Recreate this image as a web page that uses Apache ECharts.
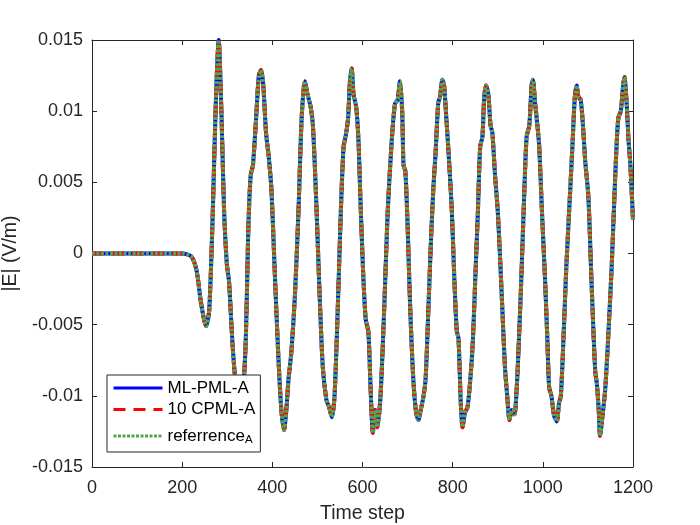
<!DOCTYPE html>
<html>
<head>
<meta charset="utf-8">
<script src="https://cdn.jsdelivr.net/npm/echarts@6/dist/echarts.min.js"></script>
<style>html,body{margin:0;padding:0;background:#fff;}#c{width:700px;height:525px;}</style>
</head>
<body>
<div id="c"></div>
<script>
const timeSteps = [0,100,200,220,232,242,253,260,268,275,281,287,293,299,304,312,320,330,340,347,352,357,364,370,375,380,386,392,398,405,413,420,426,431,436,442,450,458,465,472,478,485,490,497,505,512,520,526,532,538,545,552,558,563,568,572,576,580,586,591,595,601,607,613,618,623,628,633,640,648,656,665,672,678,683,688,691,695,700,706,713,719,724,729,735,740,746,752,757,762,768,772,777,781,786,792,798,804,809,813,818,822,827,833,840,845,850,856,861,866,870,874,879,884,888,894,900,905,911,916,921,926,931,937,942,946,952,958,964,970,975,978,983,988,992,998,1005,1010,1014,1019,1025,1031,1036,1040,1046,1052,1060,1066,1071,1075,1079,1084,1089,1094,1101,1108,1116,1120,1124,1127,1132,1138,1144,1153,1160,1165,1168,1173,1178,1181,1186,1190,1194,1200];
const mlPmlA = [0,0,0,-0.0002,-0.0012,-0.0035,-0.0051,-0.0040,0.0030,0.0110,0.0150,0.0100,0.0030,-0.0007,-0.0020,-0.0065,-0.0095,-0.0108,-0.0070,0.0020,0.0055,0.0062,0.0095,0.0125,0.0129,0.0118,0.0085,0.0068,0.0045,-0.0010,-0.0070,-0.0110,-0.0124,-0.0110,-0.0088,-0.0070,-0.0030,0.0030,0.0095,0.0121,0.0112,0.0103,0.0090,0.0040,-0.0030,-0.0080,-0.0103,-0.0108,-0.0115,-0.0100,-0.0040,0.0030,0.0075,0.0083,0.0095,0.0120,0.0130,0.0112,0.0103,0.0080,0.0042,-0.0010,-0.0046,-0.0055,-0.0095,-0.0126,-0.0110,-0.0122,-0.0100,-0.0040,0.0030,0.0080,0.0105,0.0108,0.0121,0.0100,0.0062,0.0058,0.0020,-0.0040,-0.0090,-0.0112,-0.0117,-0.0110,-0.0101,-0.0088,-0.0040,0.0010,0.0045,0.0070,0.0106,0.0110,0.0122,0.0118,0.0095,0.0065,0.0031,-0.0020,-0.0054,-0.0060,-0.0105,-0.0122,-0.0112,-0.0108,-0.0085,-0.0060,-0.0019,0.0030,0.0075,0.0082,0.0110,0.0118,0.0112,0.0090,0.0085,0.0055,0.0030,-0.0002,-0.0045,-0.0080,-0.0100,-0.0117,-0.0110,-0.0113,-0.0095,-0.0068,-0.0020,0.0035,0.0082,0.0090,0.0118,0.0122,0.0105,0.0090,0.0075,0.0030,-0.0019,-0.0060,-0.0094,-0.0100,-0.0114,-0.0118,-0.0105,-0.0100,-0.0058,-0.0010,0.0040,0.0078,0.0110,0.0118,0.0110,0.0108,0.0090,0.0065,0.0040,-0.0020,-0.0082,-0.0092,-0.0110,-0.0128,-0.0115,-0.0097,-0.0065,-0.0007,0.0050,0.0085,0.0096,0.0100,0.0118,0.0124,0.0105,0.0080,0.0063,0.0024];
const cpmlA = mlPmlA.slice();
const referenceA = mlPmlA.slice();
const seriesNames = ['ML-PML-A', '10 CPML-A', 'referrence_A'];
const xTickLabels = ['0','200','400','600','800','1000','1200'];
const yTickLabels = ['-0.015','-0.01','-0.005','0','0.005','0.01','0.015'];

function pairs(vals){ return timeSteps.map((t,i)=>[t, vals[i]]); }

const axisColor = '#262626';
const font = 'Liberation Sans, Arial, Helvetica, sans-serif';
function xAx(pos, show){
  return {type:'value', position:pos, min:0, max:1200, interval:200,
    axisLine:{show:true, onZero:false, lineStyle:{color:axisColor, width:1}},
    axisTick:{show:true, inside:true, length:5, lineStyle:{color:axisColor}},
    splitLine:{show:false},
    axisLabel:{show:show, color:axisColor, fontSize:18, fontFamily:font, margin:12,
      formatter:v=>xTickLabels[Math.round(v/200)]},
    name: show ? 'Time step' : '', nameLocation:'middle', nameGap:37,
    nameTextStyle:{color:axisColor, fontSize:19.5, fontFamily:font, verticalAlign:'top'}};
}
function yAx(pos, show){
  return {type:'value', position:pos, min:-0.015, max:0.015, interval:0.005,
    axisLine:{show:true, onZero:false, lineStyle:{color:axisColor, width:1}},
    axisTick:{show:true, inside:true, length:5, lineStyle:{color:axisColor}},
    splitLine:{show:false},
    axisLabel:{show:show, color:axisColor, fontSize:18, fontFamily:font, margin:9,
      formatter:v=>yTickLabels[Math.round((v+0.015)/0.005)]},
    name: show ? '|E| (V/m)' : '', nameLocation:'middle', nameGap:62, nameRotate:90,
    nameTextStyle:{color:axisColor, fontSize:19.5, fontFamily:font}};
}

const chart = echarts.init(document.getElementById('c'), null, {renderer:'canvas'});
chart.setOption({
  animation:false,
  backgroundColor:'#ffffff',
  grid:{left:92, right:67, top:40, bottom:58, containLabel:false, outerBoundsMode:'none'},
  xAxis:[xAx('bottom', true), xAx('top', false)],
  yAxis:[yAx('left', true), yAx('right', false)],
  legend:{
    orient:'vertical', left:107, top:375,
    data:seriesNames,
    itemWidth:49, itemHeight:14, itemGap:1.5,
    padding:[3,5,6,5],
    itemStyle:{opacity:0},
    lineStyle:{width:3},
    backgroundColor:'#ffffff', borderColor:axisColor, borderWidth:1, borderRadius:0,
    textStyle:{color:'#000', fontSize:17, fontFamily:font, lineHeight:20,
      rich:{m:{fontSize:17, fontFamily:font, color:'#000', lineHeight:20},
            s:{fontSize:11.5, fontFamily:font, color:'#000', verticalAlign:'bottom', lineHeight:20, padding:[13,0,0,0]}}},
    formatter:function(n){ return n==='referrence_A' ? '{m|referrence}{s|A}' : n; },
    z:10
  },
  series:[
    {name:seriesNames[0], type:'line', data:pairs(mlPmlA), symbol:'none', smooth:0.25,
      lineStyle:{color:'#0000ff', width:4, type:'solid'}, itemStyle:{color:'#0000ff'}, z:2},
    {name:seriesNames[1], type:'line', data:pairs(cpmlA), symbol:'none', smooth:0.25,
      lineStyle:{color:'#ff0000', width:4, type:[12,8]}, itemStyle:{color:'#ff0000'}, z:3},
    {name:seriesNames[2], type:'line', data:pairs(referenceA), symbol:'none', smooth:0.25,
      lineStyle:{color:'#4ea64e', width:4, type:[3,1.5]}, itemStyle:{color:'#4ea64e'}, z:4}
  ]
});
</script>
</body>
</html>
